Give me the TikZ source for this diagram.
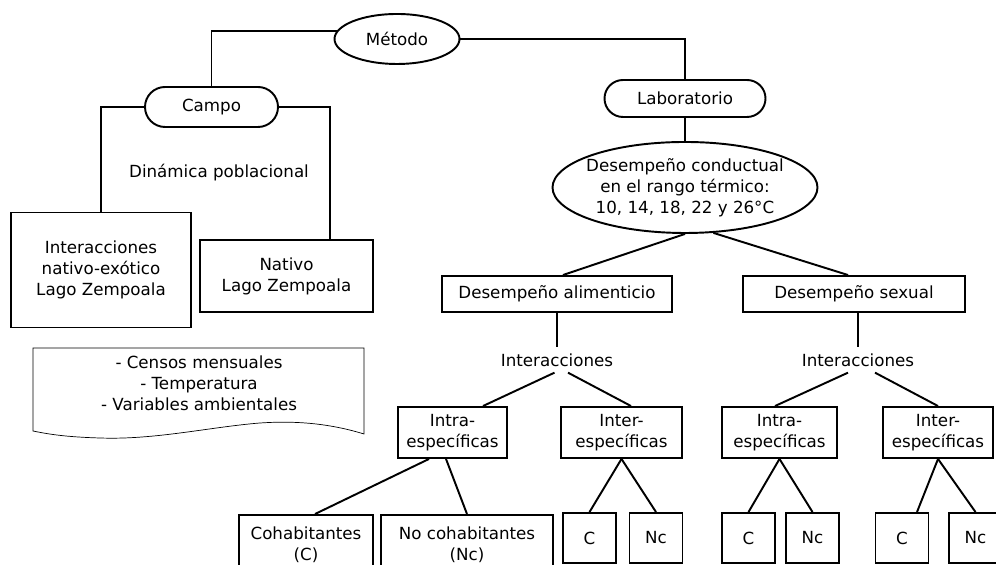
\documentclass[tikz,border=0pt]{standalone}
\usepackage{fontspec}
\setmainfont{DejaVu Sans}
\usetikzlibrary{shapes.geometric,shapes.misc}

\begin{document}
\begin{tikzpicture}[
  every node/.style={font=\fontsize{9.5}{11.9}\selectfont, align=center},
  box/.style={draw, line width=1.1pt, inner sep=2pt},
  oval/.style={draw, ellipse, line width=1.1pt, inner sep=0pt},
  pill/.style={draw, rounded rectangle, line width=1.1pt, inner sep=0pt},
  link/.style={line width=1.1pt}]
\useasboundingbox (0,0) rectangle (19.92,11.3);
\clip (0,0) rectangle (19.92,11.3);

% top of the tree
\node[oval, minimum width=2.5cm, minimum height=1cm] (metodo) at (7.94,10.52) {Método};
\node[pill, minimum width=2.66cm, minimum height=0.8cm] (campo) at (4.23,9.16) {Campo};
\node[pill, minimum width=3.22cm, minimum height=0.74cm] (lab) at (13.7,9.33) {Laboratorio};
\node[oval, inner xsep=-0.15cm, minimum width=5.3cm, minimum height=1.82cm] (conducta) at (13.7,7.55) {Desempeño conductual\\en el rango térmico:\\10, 14, 18, 22 y 26°C};

% campo
\node (dinamica) at (4.38,7.84) {Dinámica poblacional};
\node[box, minimum width=3.6cm, minimum height=2.3cm] (exotico) at (2.02,5.9) {Interacciones\\nativo-exótico\\Lago Zempoala};
\node[box, minimum width=3.46cm, minimum height=1.44cm] (nativo) at (5.73,5.78) {Nativo\\Lago Zempoala};
\node (censos) at (3.98,3.64) {- Censos mensuales\\- Temperatura\\- Variables ambientales};
\draw[thin] (7.28,2.62) .. controls (6.5,2.86) and (5.8,2.88) .. (5.2,2.84)
  .. controls (4.2,2.76) and (3.1,2.5) .. (2.0,2.54)
  .. controls (1.3,2.56) and (0.95,2.62) .. (0.66,2.68)
  -- (0.66,4.34) -- (7.28,4.34) -- cycle;

% laboratorio
\node[box, minimum width=4.6cm, minimum height=0.72cm] (alim) at (11.14,5.42) {Desempeño alimenticio};
\node[box, minimum width=4.44cm, minimum height=0.72cm] (sexual) at (17.08,5.42) {Desempeño sexual};
\node (intAl) at (11.14,4.1) {Interacciones};
\node (intSx) at (17.16,4.1) {Interacciones};

\node[box, minimum width=2.18cm, minimum height=1.02cm] (intraAl) at (9.05,2.65) {Intra-\\específicas};
\node[box, minimum width=2.42cm, minimum height=1.02cm] (interAl) at (12.43,2.65) {Inter-\\específicas};
\node[box, minimum width=2.3cm, minimum height=1.02cm] (intraSx) at (15.59,2.65) {Intra-\\específicas};
\node[box, minimum width=2.2cm, minimum height=1.02cm] (interSx) at (18.76,2.65) {Inter-\\específicas};

\node[box, minimum width=2.68cm, minimum height=1.2cm] (cohab) at (6.12,0.4) {Cohabitantes\\(C)};
\node[box, minimum width=3.44cm, minimum height=1.2cm] (nocohab) at (9.34,0.4) {No cohabitantes\\(Nc)};
\node[box, minimum width=1.06cm, minimum height=1cm] (cA1) at (11.79,0.54) {C};
\node[box, minimum width=1.06cm, minimum height=1cm] (ncA1) at (13.12,0.54) {Nc};
\node[box, minimum width=1.06cm, minimum height=1cm] (cS1) at (14.97,0.54) {C};
\node[box, minimum width=1.06cm, minimum height=1cm] (ncS1) at (16.25,0.54) {Nc};
\node[box, minimum width=1.06cm, minimum height=1cm] (cS2) at (18.04,0.54) {C};
\node[box, minimum width=1.06cm, minimum height=1cm] (ncS2) at (19.51,0.54) {Nc};

% connectors
\draw[link] (metodo.172) -| (campo.north);
\draw[link] (metodo.east) -| (lab.north);
\draw[link] (campo.west) -| (exotico.north);
\draw[link] (campo.east) -| ([xshift=0.87cm]nativo.north);
\draw[link] (lab.south) -- (conducta.north);
\draw[link] (conducta.south) -- ([xshift=0.12cm]alim.north);
\draw[link] (conducta.-58) -- ([xshift=-0.12cm]sexual.north);
\draw[link] (alim.south) -- (intAl.north);
\draw[link] (sexual.south -| intSx.north) -- (intSx.north);
\draw[link] ([xshift=-0.05cm]intAl.south) -- ([xshift=0.61cm]intraAl.north);
\draw[link] ([xshift=0.22cm]intAl.south) -- ([xshift=0.19cm]interAl.north);
\draw[link] ([xshift=-0.2cm]intSx.south) -- ([xshift=-0.09cm]intraSx.north);
\draw[link] ([xshift=0.34cm]intSx.south) -- (interSx.north);
\draw[link] ([xshift=-0.47cm]intraAl.south) -- ([xshift=0.18cm]cohab.north);
\draw[link] ([xshift=-0.13cm]intraAl.south) -- (nocohab.north);
\draw[link] (interAl.south) -- (cA1.north);
\draw[link] (interAl.south) -- (ncA1.north);
\draw[link] (intraSx.south) -- (cS1.north);
\draw[link] (intraSx.south) -- (ncS1.north);
\draw[link] (interSx.south) -- ([xshift=0.3cm]cS2.north);
\draw[link] (interSx.south) -- (ncS2.north);
\end{tikzpicture}
\end{document}
